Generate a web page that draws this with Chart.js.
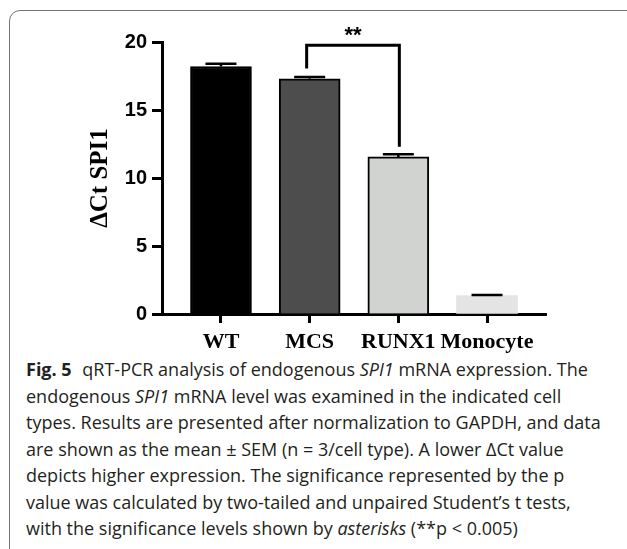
<!DOCTYPE html>
<html>
<head>
<meta charset="utf-8">
<script src="https://cdn.jsdelivr.net/npm/chart.js@4.4.1/dist/chart.umd.min.js"></script>
<style>
    html, body { margin: 0; padding: 0; background: #fff; }
    body { width: 627px; height: 549px; position: relative; overflow: hidden; }
    .frame {
        position: absolute; left: 9px; top: 10px; width: 700px; height: 640px;
        border: 1.5px solid #757575; border-radius: 11px; box-sizing: border-box;
    }
    .chart-box { position: absolute; left: 0; top: 0; width: 627px; height: 355px; }
    .caption {
        position: absolute; left: 26px; top: 356px; width: 600px;
        font-family: 'Open Sans', sans-serif; font-size: 18px; line-height: 26.5px;
        color: #231f20; white-space: nowrap;
    }
    .caption b { font-weight: 700; margin-right: 6px; }
</style>
</head>
<body>
<div class="frame"></div>
<div class="chart-box"><canvas id="chart-spi1" width="627" height="355"></canvas></div>
<div class="caption">
    <b>Fig. 5</b> qRT-PCR analysis of endogenous <i>SPI1</i> mRNA expression. The<br>
    endogenous <i>SPI1</i> mRNA level was examined in the indicated cell<br>
    types. Results are presented after normalization to GAPDH, and data<br>
    are shown as the mean ± SEM (n = 3/cell type). A lower ΔCt value<br>
    depicts higher expression. The significance represented by the p<br>
    value was calculated by two-tailed and unpaired Student’s t tests,<br>
    with the significance levels shown by <i>asterisks</i> (**p &lt; 0.005)
</div>
<script>
// data
const cellTypes = ['WT', 'MCS', 'RUNX1', 'Monocyte']
const deltaCt = [18.2, 17.3, 11.55, 1.36]
const sem = [0.2, 0.12, 0.2, 0.04]
const barColors = ['#000000', '#4d4d4d', '#d1d3d1', '#e4e4e4']
const barBorders = [2, 2, 2, 0]
const yTicks = [0, 5, 10, 15, 20]

// significance bracket MCS vs RUNX1
const bracket = { from: 1, to: 2, fromY: 18.05, toY: 12.3, topY: 19.76, label: '**' }

const errorBars = {
    id: 'errorBars',
    afterDatasetsDraw(chart) {
        const ctx = chart.ctx
        const x = chart.scales.x
        const y = chart.scales.y
        ctx.save()
        ctx.strokeStyle = '#000'
        ctx.lineWidth = 2.5
        deltaCt.forEach((v, i) => {
            const px = x.getPixelForValue(i)
            const top = y.getPixelForValue(v + sem[i])
            ctx.beginPath()
            ctx.moveTo(px, y.getPixelForValue(v))
            ctx.lineTo(px, top)
            ctx.moveTo(px - 15.5, top)
            ctx.lineTo(px + 15.5, top)
            ctx.stroke()
        })
        ctx.restore()
    },
}

const sigBracket = {
    id: 'sigBracket',
    afterDraw(chart) {
        const ctx = chart.ctx
        const x = chart.scales.x
        const y = chart.scales.y
        const x1 = x.getPixelForValue(bracket.from) - 3
        const x2 = x.getPixelForValue(bracket.to) + 1
        const yTop = y.getPixelForValue(bracket.topY)
        ctx.save()
        ctx.strokeStyle = '#000'
        ctx.lineWidth = 3
        ctx.lineJoin = 'miter'
        ctx.beginPath()
        ctx.moveTo(x1, y.getPixelForValue(bracket.fromY))
        ctx.lineTo(x1, yTop)
        ctx.lineTo(x2, yTop)
        ctx.lineTo(x2, y.getPixelForValue(bracket.toY))
        ctx.stroke()
        ctx.fillStyle = '#000'
        ctx.font = 'bold 22px "Liberation Sans", Arial, sans-serif'
        ctx.textAlign = 'center'
        ctx.textBaseline = 'middle'
        ctx.fillText(bracket.label, (x1 + x2) / 2, yTop - 9)
        ctx.restore()
    },
}

const ctx = document.getElementById('chart-spi1').getContext('2d')
const chartSpi1 = new Chart(ctx, {
    type: 'bar',
    data: {
        datasets: [
            {
                data: deltaCt.map((v, i) => ({ x: i, y: v })),
                backgroundColor: barColors,
                borderColor: '#000',
                borderWidth: barBorders,
                borderSkipped: 'start',
                barThickness: 61,
            },
        ],
    },
    options: {
        responsive: false,
        animation: false,
        layout: {
            padding: { top: 42, right: 81, bottom: 0, left: 0 },
        },
        plugins: {
            legend: { display: false },
            tooltip: { enabled: false },
        },
        scales: {
            x: {
                type: 'linear',
                min: -0.665,
                max: 3.665,
                offset: false,
                afterBuildTicks: (scale) => {
                    scale.ticks = cellTypes.map((_, i) => ({ value: i }))
                },
                afterFit: (scale) => {
                    scale.height = 41
                },
                grid: {
                    offset: false,
                    drawOnChartArea: false,
                    tickLength: 9,
                    tickWidth: 3,
                    tickColor: '#000',
                },
                border: { color: '#000', width: 3 },
                ticks: {
                    autoSkip: false,
                    maxRotation: 0,
                    padding: 6,
                    color: '#000',
                    font: { family: '"Liberation Serif", "Times New Roman", serif', size: 22, weight: 'bold' },
                    callback: (v) => cellTypes[v],
                },
            },
            y: {
                min: 0,
                max: 20,
                afterBuildTicks: (scale) => {
                    scale.ticks = yTicks.map((v) => ({ value: v }))
                },
                afterFit: (scale) => {
                    scale.width = 162
                },
                grid: {
                    drawOnChartArea: false,
                    tickLength: 10,
                    tickWidth: 3,
                    tickColor: '#000',
                },
                border: { color: '#000', width: 3 },
                ticks: {
                    padding: 5,
                    color: '#000',
                    font: { family: '"Liberation Sans", Arial, sans-serif', size: 20, weight: 'bold' },
                },
                title: {
                    display: true,
                    text: 'ΔCt SPI1',
                    color: '#000',
                    padding: { top: 86, bottom: 0 },
                    font: { family: '"Liberation Serif", "Times New Roman", serif', size: 25, weight: 'bold' },
                },
            },
        },
    },
    plugins: [errorBars, sigBracket],
})
</script>
</body>
</html>
